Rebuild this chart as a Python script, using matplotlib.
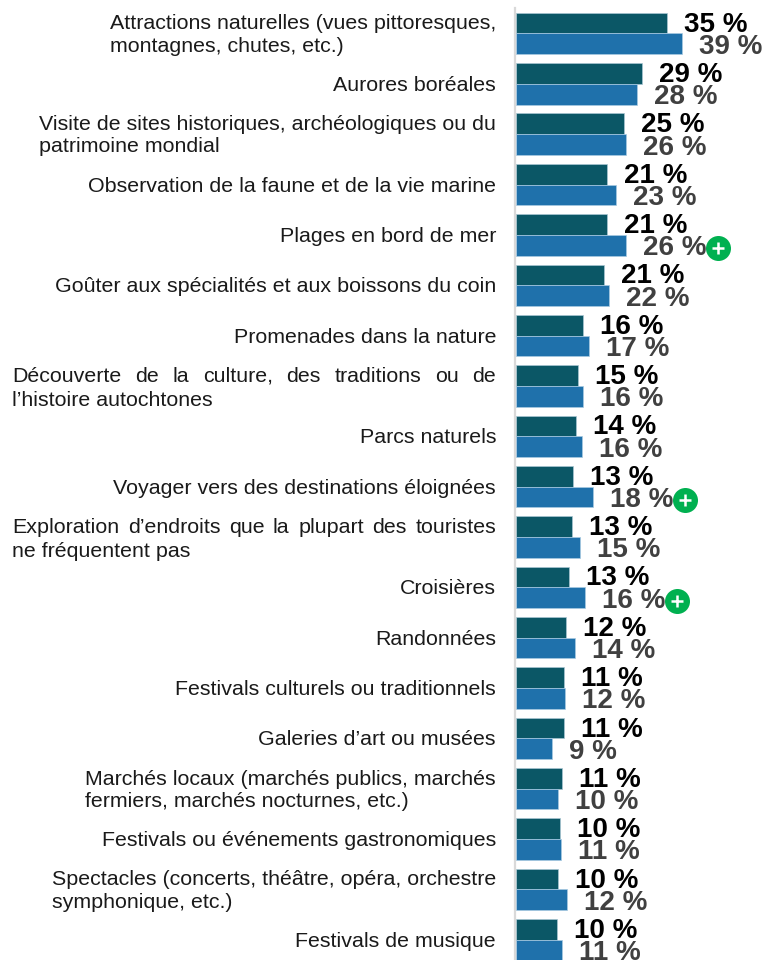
import matplotlib
matplotlib.use("Agg")
import matplotlib.pyplot as plt
import numpy as np

plt.rcParams["font.family"] = ["Liberation Sans", "DejaVu Sans"]

categories = [
    "Attractions naturelles (vues pittoresques,\nmontagnes, chutes, etc.)",
    "Aurores boréales",
    "Visite de sites historiques, archéologiques ou du\npatrimoine mondial",
    "Observation de la faune et de la vie marine",
    "Plages en bord de mer",
    "Goûter aux spécialités et aux boissons du coin",
    "Promenades dans la nature",
    "Découverte de la culture, des traditions ou de\nl’histoire autochtones",
    "Parcs naturels",
    "Voyager vers des destinations éloignées",
    "Exploration d’endroits que la plupart des touristes\nne fréquentent pas",
    "Croisières",
    "Randonnées",
    "Festivals culturels ou traditionnels",
    "Galeries d’art ou musées",
    "Marchés locaux (marchés publics, marchés\nfermiers, marchés nocturnes, etc.)",
    "Festivals ou événements gastronomiques",
    "Spectacles (concerts, théâtre, opéra, orchestre\nsymphonique, etc.)",
    "Festivals de musique",
]
# bar lengths, slightly finer than the printed labels
dark_values = [35.4, 29.6, 25.3, 21.4, 21.3, 20.6, 15.7, 14.5, 14.05, 13.3,
               13.1, 12.4, 11.7, 11.2, 11.2, 10.8, 10.3, 9.8, 9.6]
blue_values = [38.9, 28.3, 25.8, 23.4, 25.8, 21.8, 17.1, 15.7, 15.5, 18.0,
               15.0, 16.2, 13.8, 11.5, 8.4, 9.8, 10.5, 11.9, 10.8]
dark_labels = ["35 %", "29 %", "25 %", "21 %", "21 %", "21 %", "16 %", "15 %", "14 %", "13 %",
               "13 %", "13 %", "12 %", "11 %", "11 %", "11 %", "10 %", "10 %", "10 %"]
blue_labels = ["39 %", "28 %", "26 %", "23 %", "26 %", "22 %", "17 %", "16 %", "16 %", "18 %",
               "15 %", "16 %", "14 %", "12 %", "9 %", "10 %", "11 %", "12 %", "11 %"]
plus_rows = [4, 9, 11]
justified_rows = [7, 10]

W, H = 763, 960
x0 = 516
px_per_unit = 4.27
row_h = 50.35
first_center = 33.5
bar_h = 20.7 / row_h
cat_size = 15.4
cat_color = "#1a1a1a"

fig = plt.figure(figsize=(W / 100, H / 100), dpi=100)
ax = fig.add_axes([x0 / W, 0, (W - x0) / W, 1])
ax.set_xlim(0, (W - x0) / px_per_unit)
ax.set_ylim((H - first_center) / row_h, -first_center / row_h)

y = np.arange(len(categories))
ax.barh(y - bar_h / 2, dark_values, height=bar_h, color="#0B5766", edgecolor="#a9c6d2", linewidth=0.5)
ax.barh(y + bar_h / 2, blue_values, height=bar_h, color="#1F71AB", edgecolor="#a9cbe2", linewidth=0.5)

for i in y:
    ax.annotate(dark_labels[i], (dark_values[i], i - bar_h / 2), xytext=(17, -1.5),
                textcoords="offset pixels", fontsize=20, fontweight="bold", color="black",
                va="center", annotation_clip=False)
for i in y:
    ax.annotate(blue_labels[i], (blue_values[i], i + bar_h / 2), xytext=(17, -3),
                textcoords="offset pixels", fontsize=20, fontweight="bold", color="#404040",
                va="center", annotation_clip=False)

for i in plus_rows:
    xp = blue_values[i] + 92 / px_per_unit
    yp = i + bar_h / 2 + 3 / row_h
    ax.plot(xp, yp, "o", ms=18, color="#00B050", mew=0, clip_on=False)
    ax.plot(xp, yp, "+", ms=9, color="white", mew=1.8, clip_on=False)


def justified_line(line, row, dy, left, right):
    # spread the words of one line between left and right (pixel offsets from the axis)
    words = line.split(" ")
    r = fig.canvas.get_renderer()
    widths = []
    for w in words:
        t = ax.text(0, 0, w, fontsize=cat_size)
        widths.append(t.get_window_extent(r).width)
        t.remove()
    gap = (right - left - sum(widths)) / (len(words) - 1)
    pos = left
    for w, wd in zip(words, widths):
        ax.annotate(w, (0, row), xytext=(pos, dy), textcoords="offset pixels", fontsize=cat_size,
                    color=cat_color, va="center_baseline", annotation_clip=False)
        pos += wd + gap


for i, cat in enumerate(categories):
    if i in justified_rows:
        first, second = cat.split("\n")
        justified_line(first, i, 11.5, 12 - x0, 496 - x0)
        ax.annotate(second, (0, i), xytext=(12 - x0, -12.5), textcoords="offset pixels",
                    fontsize=cat_size, color=cat_color, va="center_baseline", annotation_clip=False)
    else:
        ax.annotate(cat, (0, i), xytext=(-20, -1.5), textcoords="offset pixels", fontsize=cat_size,
                    color=cat_color, ha="right", va="center", multialignment="left",
                    linespacing=1.22, annotation_clip=False)

for s in ["top", "right", "bottom"]:
    ax.spines[s].set_visible(False)
ax.spines["left"].set_color("#D9D9D9")
ax.spines["left"].set_linewidth(1.6)
ax.spines["left"].set_position(("outward", 1))
ax.spines["left"].set_bounds((8 - first_center) / row_h, (H - first_center) / row_h)
ax.set_xticks([])
ax.set_yticks([])

fig.savefig("out.png", dpi=100)
